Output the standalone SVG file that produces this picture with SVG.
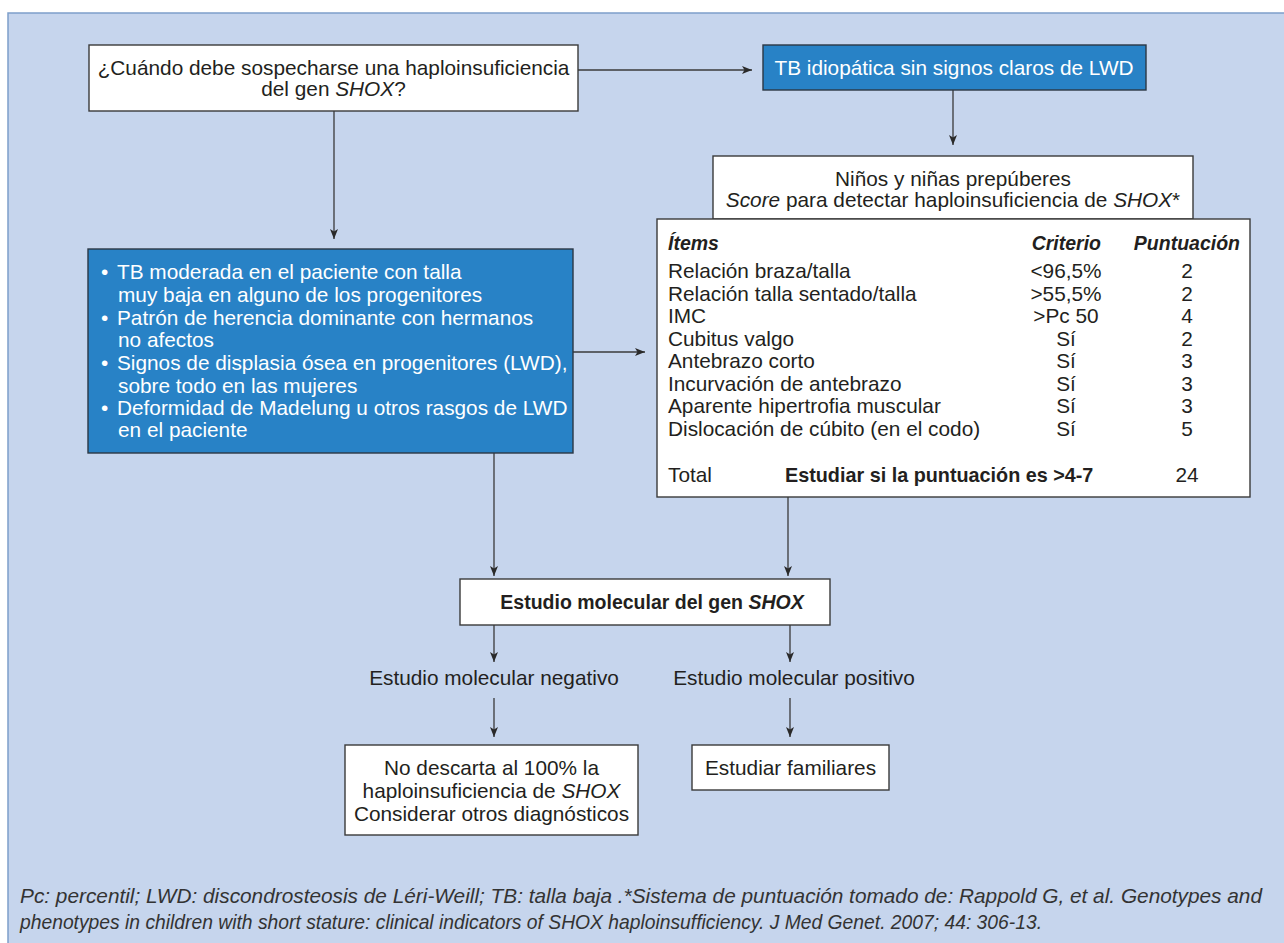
<svg xmlns="http://www.w3.org/2000/svg" width="1284" height="943" viewBox="0 0 1284 943">
<defs>
<style>
text{font-family:"Liberation Sans",Arial,sans-serif;fill:#231f20;}
.t{font-size:20.8px;}
.w{fill:#ffffff;}
.b{font-weight:bold;}
.i{font-style:italic;}
.bi{font-weight:bold;font-style:italic;font-size:19.5px;}
.box{fill:#ffffff;stroke:#3a3a3a;stroke-width:1.4;}
.blue{fill:#2882c6;stroke:#2b3744;stroke-width:1.4;}
.c{fill:none;stroke:#3a3a3a;stroke-width:1.3;}
.fn{font-size:20.6px;font-style:italic;fill:#333333;}
</style>
<marker id="ah" markerWidth="12" markerHeight="10" refX="10" refY="4" orient="auto" markerUnits="userSpaceOnUse">
<path d="M0,0 L10,4 L0,8 L2.5,4 z" fill="#2a2a2a"/>
</marker>
</defs>
<rect x="0" y="0" width="1284" height="943" fill="#ffffff"/>
<rect id="panel" x="8" y="13" width="1290" height="945" fill="#c6d5ed" stroke="#7d9fca" stroke-width="1.5"/>

<g id="connectors">
<line class="c" x1="578" y1="70" x2="752" y2="70" marker-end="url(#ah)"/>
<line class="c" x1="953" y1="90" x2="953" y2="145" marker-end="url(#ah)"/>
<line class="c" x1="334" y1="111" x2="334" y2="239" marker-end="url(#ah)"/>
<line class="c" x1="573" y1="352" x2="645" y2="352" marker-end="url(#ah)"/>
<line class="c" x1="494" y1="453" x2="494" y2="576" marker-end="url(#ah)"/>
<line class="c" x1="788" y1="497" x2="788" y2="576" marker-end="url(#ah)"/>
<line class="c" x1="494" y1="625" x2="494" y2="662" marker-end="url(#ah)"/>
<line class="c" x1="790" y1="625" x2="790" y2="662" marker-end="url(#ah)"/>
<line class="c" x1="494" y1="698" x2="494" y2="737" marker-end="url(#ah)"/>
<line class="c" x1="790" y1="698" x2="790" y2="737" marker-end="url(#ah)"/>
</g>

<g id="q">
<rect class="box" x="89" y="45" width="489" height="66"/>
<text class="t" x="333.5" y="75" text-anchor="middle">¿Cuándo debe sospecharse una haploinsuficiencia</text>
<text class="t" x="333.5" y="96" text-anchor="middle">del gen <tspan class="i">SHOX</tspan>?</text>
</g>

<g id="idiopatica">
<rect class="blue" x="763" y="45" width="383" height="45"/>
<text class="t w" x="954" y="75" text-anchor="middle">TB idiopática sin signos claros de LWD</text>
</g>

<g id="criterios">
<rect class="blue" x="88" y="249" width="485" height="204"/>
<g class="t">
<text class="t w" x="101" y="279">•</text><text class="t w" x="117" y="279">TB moderada en el paciente con talla</text>
<text class="t w" x="118" y="302">muy baja en alguno de los progenitores</text>
<text class="t w" x="101" y="325">•</text><text class="t w" x="117" y="325">Patrón de herencia dominante con hermanos</text>
<text class="t w" x="118" y="347">no afectos</text>
<text class="t w" x="101" y="370">•</text><text class="t w" x="117" y="370">Signos de displasia ósea en progenitores (LWD),</text>
<text class="t w" x="118" y="393">sobre todo en las mujeres</text>
<text class="t w" x="101" y="415">•</text><text class="t w" x="117" y="415">Deformidad de Madelung u otros rasgos de LWD</text>
<text class="t w" x="118" y="437">en el paciente</text>
</g>
</g>

<g id="score-header">
<rect class="box" x="713" y="156" width="480" height="63"/>
<text class="t" x="953" y="186" text-anchor="middle">Niños y niñas prepúberes</text>
<text class="t" x="953" y="207" text-anchor="middle"><tspan class="i">Score</tspan> para detectar haploinsuficiencia de <tspan class="i">SHOX</tspan>*</text>
</g>

<g id="score-table">
<rect class="box" x="657" y="219" width="593" height="278"/>
<text class="bi" x="668" y="250">Ítems</text>
<text class="bi" x="1101" y="250" text-anchor="end">Criterio</text>
<text class="bi" x="1240" y="250" text-anchor="end">Puntuación</text>
<g class="t">
<text class="t" x="668" y="278">Relación braza/talla</text>
<text class="t" x="668" y="301">Relación talla sentado/talla</text>
<text class="t" x="668" y="323">IMC</text>
<text class="t" x="668" y="346">Cubitus valgo</text>
<text class="t" x="668" y="368">Antebrazo corto</text>
<text class="t" x="668" y="391">Incurvación de antebrazo</text>
<text class="t" x="668" y="413">Aparente hipertrofia muscular</text>
<text class="t" x="668" y="436">Dislocación de cúbito (en el codo)</text>
<text class="t" x="1066" y="278" text-anchor="middle">&lt;96,5%</text>
<text class="t" x="1066" y="301" text-anchor="middle">&gt;55,5%</text>
<text class="t" x="1066" y="323" text-anchor="middle">&gt;Pc 50</text>
<text class="t" x="1066" y="346" text-anchor="middle">Sí</text>
<text class="t" x="1066" y="368" text-anchor="middle">Sí</text>
<text class="t" x="1066" y="391" text-anchor="middle">Sí</text>
<text class="t" x="1066" y="413" text-anchor="middle">Sí</text>
<text class="t" x="1066" y="436" text-anchor="middle">Sí</text>
<text class="t" x="1187" y="278" text-anchor="middle">2</text>
<text class="t" x="1187" y="301" text-anchor="middle">2</text>
<text class="t" x="1187" y="323" text-anchor="middle">4</text>
<text class="t" x="1187" y="346" text-anchor="middle">2</text>
<text class="t" x="1187" y="368" text-anchor="middle">3</text>
<text class="t" x="1187" y="391" text-anchor="middle">3</text>
<text class="t" x="1187" y="413" text-anchor="middle">3</text>
<text class="t" x="1187" y="436" text-anchor="middle">5</text>
<text class="t" x="668" y="482">Total</text>
<text class="t b" x="785" y="482" style="font-size:19.8px">Estudiar si la puntuación es &gt;4-7</text>
<text class="t" x="1187" y="482" text-anchor="middle">24</text>
</g>
</g>

<g id="estudio">
<rect class="box" x="460" y="579" width="370" height="46"/>
<text class="t b" x="652" y="609" text-anchor="middle" style="font-size:19.5px">Estudio molecular del gen <tspan class="i">SHOX</tspan></text>
</g>

<g id="label-neg">
<text class="t" x="494" y="685" text-anchor="middle">Estudio molecular negativo</text>
</g>
<g id="label-pos">
<text class="t" x="794" y="685" text-anchor="middle">Estudio molecular positivo</text>
</g>

<g id="negativo">
<rect class="box" x="345" y="745" width="293" height="90"/>
<text class="t" x="491.5" y="775" text-anchor="middle">No descarta al 100% la</text>
<text class="t" x="491.5" y="798" text-anchor="middle">haploinsuficiencia de <tspan class="i">SHOX</tspan></text>
<text class="t" x="491.5" y="821" text-anchor="middle">Considerar otros diagnósticos</text>
</g>

<g id="positivo">
<rect class="box" x="692" y="745" width="197" height="45"/>
<text class="t" x="790.5" y="775" text-anchor="middle">Estudiar familiares</text>
</g>

<g id="footnote">
<text class="fn" x="20" y="903" textLength="1242" lengthAdjust="spacingAndGlyphs">Pc: percentil; LWD: discondrosteosis de Léri-Weill; TB: talla baja .*Sistema de puntuación tomado de: Rappold G, et al. Genotypes and</text>
<text class="fn" x="20" y="929" textLength="1022" lengthAdjust="spacingAndGlyphs">phenotypes in children with short stature: clinical indicators of SHOX haploinsufficiency. J Med Genet. 2007; 44: 306-13.</text>
</g>
</svg>
